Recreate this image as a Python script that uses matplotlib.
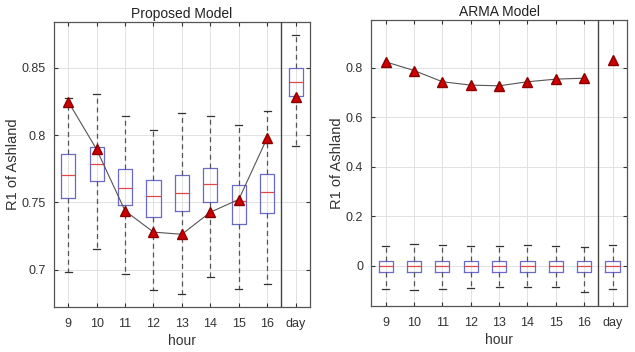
import numpy as np
import matplotlib
matplotlib.use("Agg")
import matplotlib.pyplot as plt
from matplotlib.ticker import FormatStrFormatter, FuncFormatter

plt.rcParams['font.family'] = ['Liberation Sans', 'DejaVu Sans']

labels = ['9', '10', '11', '12', '13', '14', '15', '16', 'day']

# Proposed model box stats
prop_q1 = [0.7534, 0.7660, 0.7478, 0.7391, 0.7433, 0.7500, 0.7340, 0.7421, 0.8290]
prop_med = [0.7702, 0.7783, 0.7608, 0.7547, 0.7569, 0.7637, 0.7510, 0.7574, 0.8390]
prop_q3 = [0.7862, 0.7914, 0.7746, 0.7665, 0.7704, 0.7756, 0.7633, 0.7709, 0.8495]
prop_lo = [0.6983, 0.7155, 0.6970, 0.6850, 0.6820, 0.6948, 0.6855, 0.6894, 0.7920]
prop_hi = [0.8273, 0.8302, 0.8144, 0.8038, 0.8162, 0.8142, 0.8075, 0.8175, 0.8740]
prop_actual = [0.8248, 0.7894, 0.7438, 0.7280, 0.7264, 0.7428, 0.7522, 0.7980, 0.8280]

# ARMA model box stats
arma_q1 = [-0.026, -0.026, -0.025, -0.026, -0.025, -0.025, -0.025, -0.025, -0.025]
arma_med = [-0.003, -0.003, -0.003, -0.003, -0.003, -0.003, -0.003, -0.003, -0.003]
arma_q3 = [0.019, 0.020, 0.019, 0.019, 0.019, 0.020, 0.019, 0.019, 0.019]
arma_lo = [-0.094, -0.100, -0.095, -0.090, -0.086, -0.085, -0.086, -0.105, -0.095]
arma_hi = [0.078, 0.088, 0.084, 0.080, 0.078, 0.085, 0.078, 0.075, 0.083]
arma_actual = [0.824, 0.789, 0.7435, 0.730, 0.727, 0.7435, 0.754, 0.758, 0.830]


def make_stats(q1, med, q3, lo, hi):
    stats = []
    for i in range(len(q1)):
        stats.append(dict(q1=q1[i], med=med[i], q3=q3[i], whislo=lo[i], whishi=hi[i], fliers=[]))
    return stats


def draw(ax, stats, actual, title, ylim, yticks, fmt):
    pos = np.arange(1, len(labels) + 1)
    ax.bxp(stats, positions=pos, widths=0.5, showfliers=False,
           boxprops=dict(color='#6a6ac8', lw=0.9),
           medianprops=dict(color='#e04848', lw=0.9),
           whiskerprops=dict(color='#555555', lw=0.9, linestyle=(0, (4, 3))),
           capprops=dict(color='#333333', lw=0.9),
           capwidths=0.25)
    ax.plot(pos[:-1], actual[:-1], color='#555555', lw=0.8, zorder=4)
    ax.plot(pos, actual, linestyle='none', marker='^', markersize=7,
            markerfacecolor='#cc0000', markeredgecolor='#8a0000', zorder=5)
    ax.axvline(8.5, color='#444444', lw=1.0, zorder=3)
    ax.set_xlim(0.5, 9.5)
    ax.set_ylim(*ylim)
    ax.set_xticks(pos)
    ax.set_xticklabels(labels)
    ax.set_yticks(yticks)
    ax.yaxis.set_major_formatter(fmt)
    ax.grid(True, color='#e2e2e2', lw=0.7)
    ax.set_axisbelow(True)
    ax.tick_params(direction='in', length=3, color='#333333', labelsize=9,
                   labelcolor='#333333', top=True, right=True)
    ax.tick_params(axis='x', pad=8)
    ax.tick_params(axis='y', pad=6)
    for s in ax.spines.values():
        s.set_color('#555555')
        s.set_linewidth(0.9)
    ax.set_title(title, fontsize=10, color='#222222', pad=3)
    ax.set_xlabel('hour', fontsize=10, color='#333333', labelpad=3)
    ax.set_ylabel('R1 of Ashland', fontsize=10.5, color='#333333', labelpad=1)


fig = plt.figure(figsize=(6.35, 3.52), dpi=100)
ax1 = fig.add_axes([0.085, 0.128, 0.403, 0.81])
ax2 = fig.add_axes([0.585, 0.131, 0.402, 0.812])

draw(ax1, make_stats(prop_q1, prop_med, prop_q3, prop_lo, prop_hi), prop_actual,
     'Proposed Model', (0.6725, 0.884), [0.7, 0.75, 0.8, 0.85], FormatStrFormatter('%g'))
draw(ax2, make_stats(arma_q1, arma_med, arma_q3, arma_lo, arma_hi), arma_actual,
     'ARMA Model', (-0.163, 0.993), [0, 0.2, 0.4, 0.6, 0.8],
     FuncFormatter(lambda v, p: '0' if abs(v) < 1e-9 else '%g' % v))

fig.savefig('out.png', dpi=100)
